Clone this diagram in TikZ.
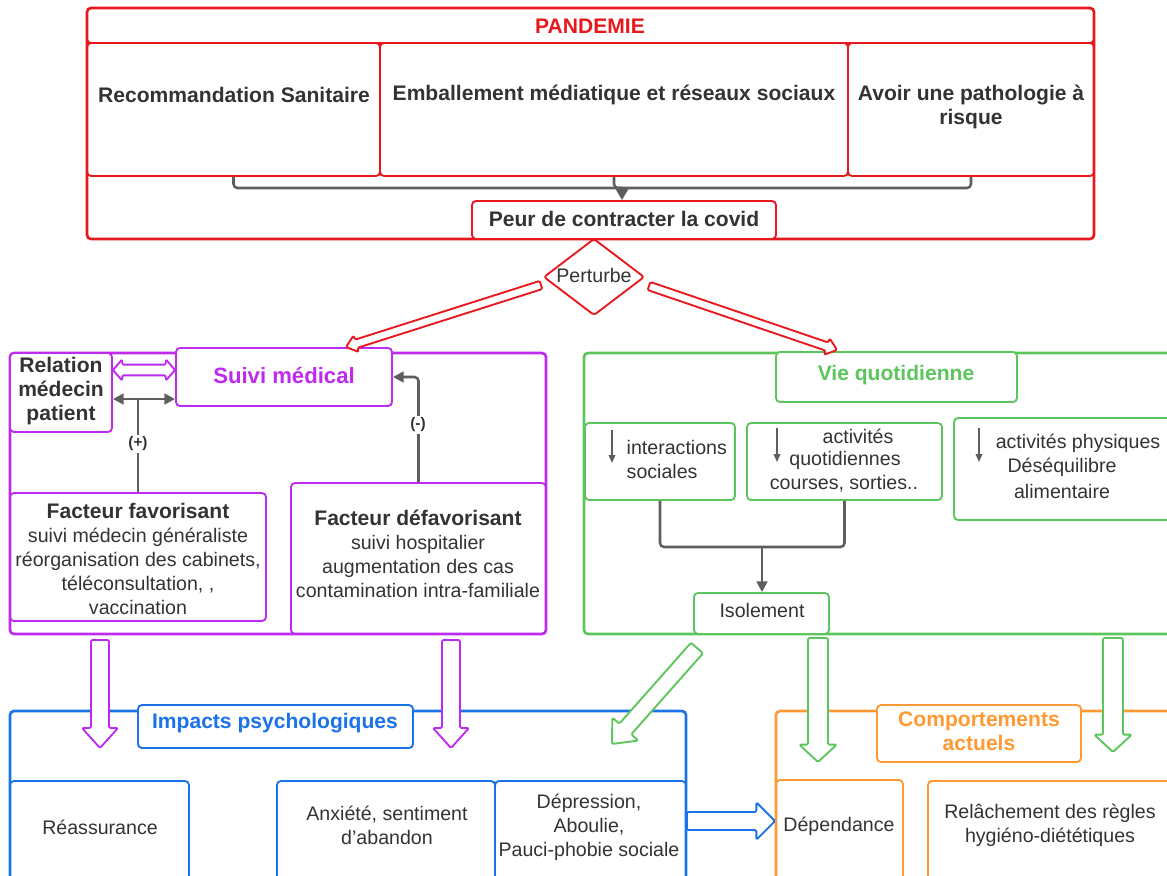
\documentclass[tikz,border=0pt]{standalone}
\usepackage{fontspec}
\setmainfont{Liberation Sans}
\usetikzlibrary{arrows.meta}
\definecolor{cred}{RGB}{232,24,28}
\definecolor{cpur}{RGB}{190,42,240}
\definecolor{cgrn}{RGB}{92,198,92}
\definecolor{cblu}{RGB}{26,115,232}
\definecolor{corg}{RGB}{255,153,51}
\definecolor{ctxt}{RGB}{51,51,51}
\definecolor{cgray}{RGB}{94,94,94}
\newcommand\freg{\fontsize{14.7}{18}\selectfont}
\newcommand\fbld{\bfseries\fontsize{15.8}{18}\selectfont}
\newcommand\fbig{\bfseries\fontsize{16.6}{19}\selectfont}
\newcommand\fsml{\bfseries\fontsize{11.5}{13}\selectfont}
% box node from pixel corners
\newcommand\bx[6]{\node[#1, minimum width={(#5-#3)*0.75pt}, minimum height={(#6-#4)*0.75pt}] (#2) at ({(#3+#5)/2},{(#4+#6)/2}) {};}
% hollow block arrow: style, start, end, half shaft, half head, head length
\newcommand\harrow[6]{%
  \pgfpointdiff{\pgfpointanchor{#2}{center}}{\pgfpointanchor{#3}{center}}%
  \pgfgetlastxy{\hArX}{\hArY}%
  \pgfmathsetmacro\hArAng{atan2(\hArY,\hArX)}%
  \pgfmathsetmacro\hArLen{veclen(\hArX,\hArY)}%
  \begin{scope}[shift={(#2)}, rotate=\hArAng]
    \draw[#1] (0pt,-#4) -- ({\hArLen pt-#6},-#4) -- ({\hArLen pt-#6},-#5) -- (\hArLen pt,0pt)
      -- ({\hArLen pt-#6},#5) -- ({\hArLen pt-#6},#4) -- (0pt,#4) -- cycle;
  \end{scope}}
\newcommand\dharrow[6]{%
  \pgfpointdiff{\pgfpointanchor{#2}{center}}{\pgfpointanchor{#3}{center}}%
  \pgfgetlastxy{\hArX}{\hArY}%
  \pgfmathsetmacro\hArAng{atan2(\hArY,\hArX)}%
  \pgfmathsetmacro\hArLen{veclen(\hArX,\hArY)}%
  \begin{scope}[shift={(#2)}, rotate=\hArAng]
    \draw[#1] (0pt,0pt) -- (#6,#5) -- (#6,#4) -- ({\hArLen pt-#6},#4) -- ({\hArLen pt-#6},#5)
      -- (\hArLen pt,0pt) -- ({\hArLen pt-#6},-#5) -- ({\hArLen pt-#6},-#4) -- (#6,-#4) -- (#6,-#5) -- cycle;
  \end{scope}}
\tikzset{
  cont/.style={draw=#1, line width=2pt, rounded corners=3pt, inner sep=0pt},
  bbox/.style={draw=#1, line width=1.4pt, rounded corners=3pt, inner sep=0pt},
  conn/.style={draw=cgray, line width=1.9pt},
  arr/.style={-{Triangle[length=8pt,width=8pt]}},
  bigarr/.style={-{Triangle[length=9pt,width=10pt]}},
  thinarr/.style={draw=cgray, line width=1pt, -{Triangle[length=6pt,width=5pt]}},
  hol/.style={draw=#1, line width=1.4pt, line join=round, fill=white, rounded corners=1pt},
  lbl/.style={font=\fsml, fill=white, inner sep=1.5pt}
}
\begin{document}
\begin{tikzpicture}[x=0.75pt,y=-0.75pt, every node/.style={text=ctxt, font=\freg}]
\useasboundingbox (0,0) rectangle (1167,875);
\clip (0,0) rectangle (1167,875);

% ---------- top (red) ----------
\bx{cont=cred}{pand}{87}{8}{1094}{239}
\bx{bbox=cred}{pandT}{87}{8}{1094}{43}
\bx{bbox=cred}{rec}{87}{43}{380}{176}
\bx{bbox=cred}{emb}{380}{43}{848}{176}
\bx{bbox=cred}{avo}{848}{43}{1094}{176}
\bx{bbox=cred, fill=white}{peur}{472}{201}{776}{239}
\node[font=\fbld, text=cred] (tpand) at (590,26) {PANDEMIE};
\node[font=\fbld] (trec) at (234,95) {Recommandation Sanitaire};
\node[font=\fbld] (temb) at (614,95) {Emballement médiatique et réseaux sociaux};
\node[font=\fbld, align=center] (tavo) at (971,107) {Avoir une pathologie à\\risque};
\node[font=\fbld] (tpeur) at (624,219) {Peur de contracter la covid};

\coordinate (jn) at (622,188);
\draw[conn, rounded corners=3pt] (rec.south) |- (jn);
\draw[conn, rounded corners=3pt] (avo.south) |- (jn);
\draw[conn, rounded corners=3pt] (emb.south) |- (jn);
\draw[conn, bigarr] (jn) -- (jn |- peur.north);

% diamond
\draw[line width=1.4pt, draw=cred, rounded corners=2pt, fill=white] (594,239) -- (644,277) -- (594,315) -- (544,277) -- cycle;
\node (pert) at (594,275) {Perturbe};

% ---------- purple ----------
\bx{cont=cpur}{pcont}{10}{353}{546}{634}
\bx{bbox=cpur, fill=white}{rel}{10}{353}{112}{432}
\bx{bbox=cpur, fill=white}{suivi}{176}{348}{392}{406}
\bx{bbox=cpur}{fav}{10}{493}{266}{621}
\bx{bbox=cpur}{defav}{291}{483}{546}{634}
\node[font=\fbld, align=center] (trel) at (61,391) {Relation\\médecin\\patient};
\node[font=\fbig, text=cpur] (tsuivi) at (284,375) {Suivi médical};
\node[align=center] (tfav) at (138,559) {{\fbld Facteur favorisant}\\suivi médecin généraliste\\réorganisation des cabinets,\\téléconsultation, ,\\vaccination};
\node[align=center] (tdefav) at (418,554) {{\fbld Facteur défavorisant}\\suivi hospitalier\\augmentation des cas\\contamination intra-familiale};

\coordinate (pj) at (138,399);
\draw[conn] (fav.north) -- (pj);
\draw[conn, arr] (pj) -- (rel.east |- pj);
\draw[conn, arr] (pj) -- (suivi.west |- pj);
\node[lbl] (lplus) at (138,444) {(+)};
\draw[conn, arr, rounded corners=3pt] (defav.north) |- (suivi.east);
\node[lbl] (lminus) at (418,425) {(-)};

\coordinate (drs) at (rel.east |- 0,370);
\coordinate (dre) at (suivi.west |- 0,370);
\dharrow{hol=cpur}{drs}{dre}{4pt}{8pt}{7pt}

% ---------- green ----------
\bx{cont=cgrn}{gcont}{584}{353}{1180}{634}
\bx{bbox=cgrn, fill=white}{vie}{776}{352}{1017}{402}
\bx{bbox=cgrn}{inter}{585}{423}{735}{500}
\bx{bbox=cgrn}{activ}{747}{423}{942}{500}
\bx{bbox=cgrn}{phys}{954}{418}{1180}{520}
\bx{bbox=cgrn, fill=white}{isol}{694}{593}{829}{634}
\node[font=\fbld, text=cgrn] (tvie) at (896,375) {Vie quotidienne};
\node[align=left, anchor=west] (tinter) at (622,459) {interactions\\sociales};
\node (tact1) at (858,436) {activités};
\node (tact2) at (845,460) {quotidiennes};
\node (tact3) at (844,484) {courses, sorties..};
\node (tphy1) at (1078,443) {activités physiques};
\node (tphy2) at (1062,467) {Déséquilibre};
\node (tphy3) at (1062,491) {alimentaire};
\node (tisol) at (762,610) {Isolement};

\coordinate (ia1) at (612,430); \coordinate (ia2) at (612,463);
\coordinate (ib1) at (777,428); \coordinate (ib2) at (777,462);
\coordinate (ic1) at (979,428); \coordinate (ic2) at (979,462);
\draw[thinarr] (ia1) -- (ia2);
\draw[thinarr] (ib1) -- (ib2);
\draw[thinarr] (ic1) -- (ic2);

\coordinate (gj) at (762,547);
\draw[conn, rounded corners=3pt] (inter.south) |- (gj);
\draw[conn, rounded corners=3pt] (activ.south) |- (gj);
\draw[conn, arr] (gj) -- (gj |- isol.north);

% ---------- blue ----------
\bx{cont=cblu}{bcont}{10}{711}{686}{900}
\bx{bbox=cblu}{reas}{10}{781}{189}{900}
\bx{bbox=cblu}{anx}{277}{781}{495}{900}
\bx{bbox=cblu}{depr}{495}{781}{686}{900}
\bx{bbox=cblu, fill=white}{imp}{138}{705}{413}{748}
\node[font=\fbld, text=cblu] (timp) at (275,723) {Impacts psychologiques};
\node (treas) at (100,827) {Réassurance};
\node[align=center] (tanx) at (387,825) {Anxiété, sentiment\\d\char"27 abandon};
\node[align=center] (tdepr) at (589,827) {Dépression,\\Aboulie,\\Pauci-phobie sociale};

% ---------- orange ----------
\bx{cont=corg}{ocont}{776}{711}{1180}{900}
\bx{bbox=corg}{depd}{776}{780}{903}{900}
\bx{bbox=corg}{relc}{928}{781}{1180}{900}
\bx{bbox=corg, fill=white}{comp}{877}{705}{1081}{762}
\node[font=\fbld, text=corg, align=center] (tcomp) at (979,731) {Comportements\\actuels};
\node (tdepd) at (839,826) {Dépendance};
\node[align=center] (trelc) at (1050,825) {Relâchement des règles\\hygiéno-diététiques};

% ---------- block arrows ----------
\coordinate (r1s) at (541,285); \coordinate (r1e) at (346,347);
\coordinate (r2s) at (649,286); \coordinate (r2e) at (837,350);
\harrow{hol=cred}{r1s}{r1e}{3.2pt}{6.5pt}{8pt}
\harrow{hol=cred}{r2s}{r2e}{3.2pt}{6.5pt}{8pt}

\coordinate (p1s) at (100,640); \coordinate (p1e) at (100,748);
\coordinate (p2s) at (451,640); \coordinate (p2e) at (451,748);
\harrow{hol=cpur}{p1s}{p1e}{6.75pt}{13.5pt}{15pt}
\harrow{hol=cpur}{p2s}{p2e}{6.75pt}{13.5pt}{15pt}

\coordinate (g1s) at (697,648); \coordinate (g1e) at (612,744);
\harrow{hol=cgrn}{g1s}{g1e}{6pt}{13pt}{15pt}
\coordinate (g2s) at (818,638); \coordinate (g2e) at (818,762);
\coordinate (g3s) at (1113,638); \coordinate (g3e) at (1113,752);
\harrow{hol=cgrn}{g2s}{g2e}{7.5pt}{14pt}{13pt}
\harrow{hol=cgrn}{g3s}{g3e}{7.5pt}{14pt}{13pt}

\coordinate (b1s) at (depr.east |- 0,821); \coordinate (b1e) at (depd.west |- 0,821);
\harrow{hol=cblu}{b1s}{b1e}{6.75pt}{14pt}{14pt}
\end{tikzpicture}
\end{document}
